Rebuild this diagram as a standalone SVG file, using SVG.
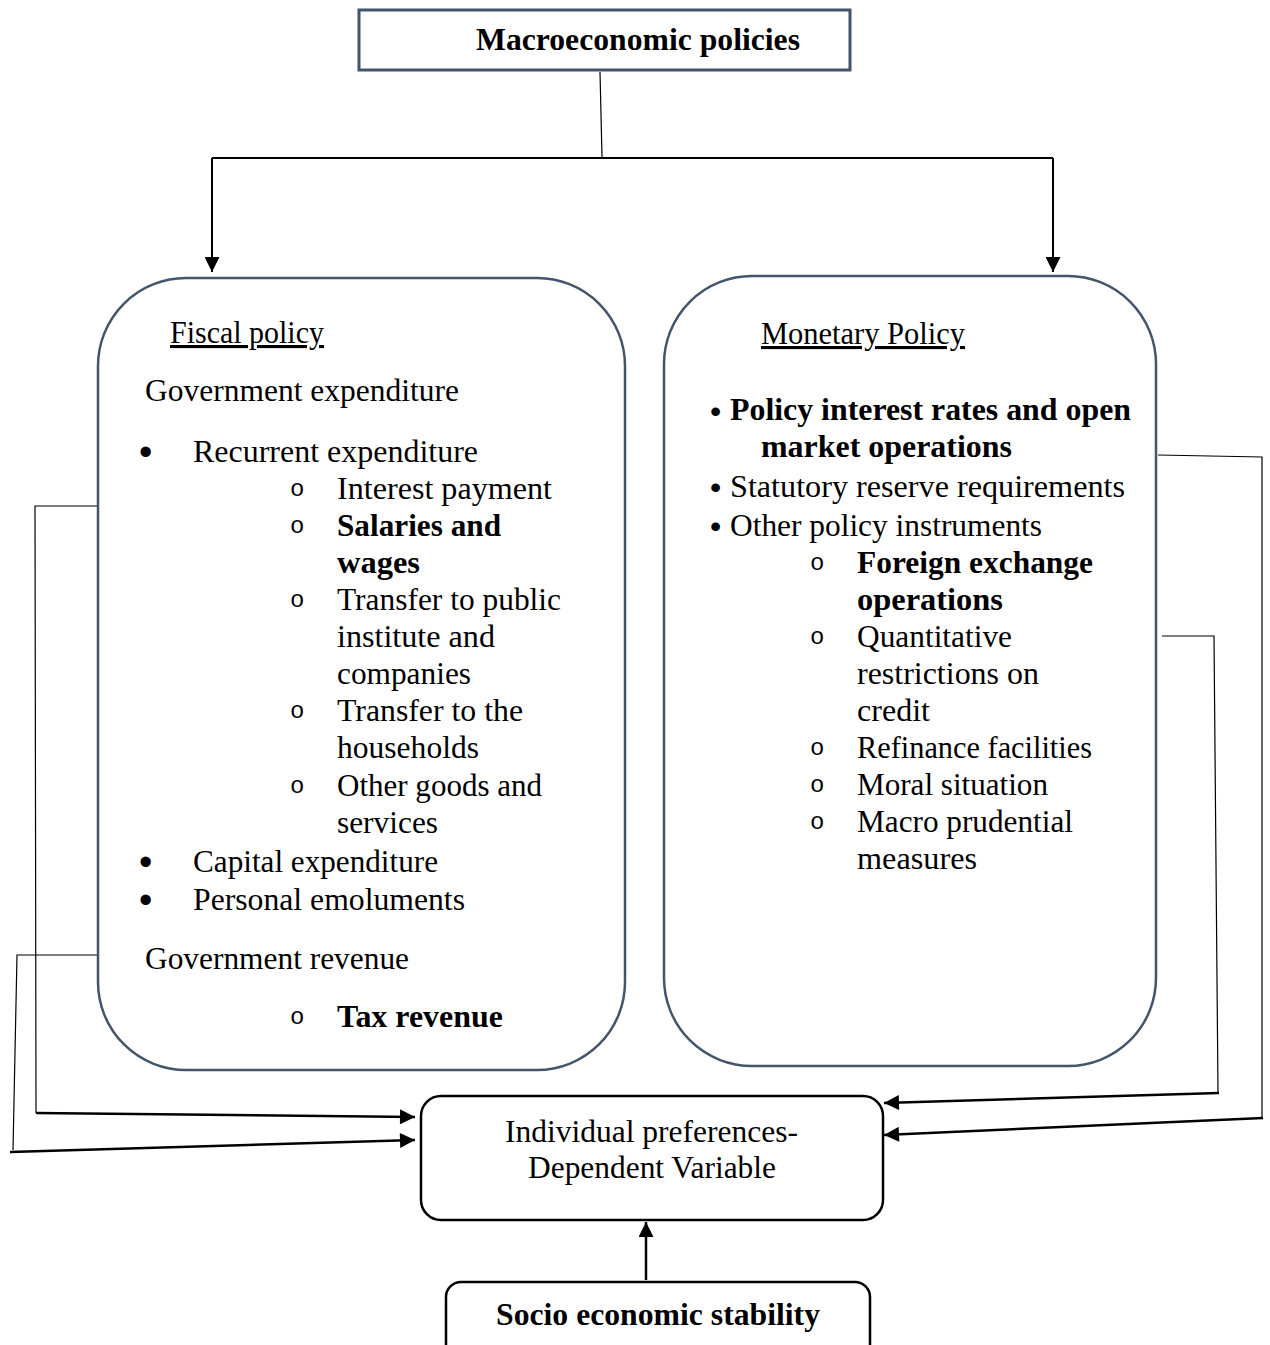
<svg xmlns="http://www.w3.org/2000/svg" width="1270" height="1345" viewBox="0 0 1270 1345">
<style>
.t{font-family:"Liberation Serif","Times New Roman",serif;font-size:31px;fill:#000}
.b{font-weight:bold}
.u{text-decoration:underline}
.dot{font-family:"Liberation Sans",Arial,sans-serif;font-size:38px;fill:#000}
.dot2{font-family:"Liberation Sans",Arial,sans-serif;font-size:32px;fill:#000}
.cir{font-family:"Liberation Mono","Courier New",monospace;font-size:24px;fill:#000}
.box{fill:#fff;stroke:#44546a;stroke-width:2.5}
.nbox{fill:#fff;stroke:#000;stroke-width:2.5}
.thin{fill:none;stroke:#000;stroke-width:1.2}
.thick{fill:none;stroke:#000;stroke-width:2.5}
.mid{fill:none;stroke:#000;stroke-width:2}
</style>
<defs>
<marker id="ah" viewBox="0 0 10 10" refX="10" refY="5" markerWidth="16" markerHeight="15" markerUnits="userSpaceOnUse" orient="auto">
<path d="M0,0 L10,5 L0,10 z" fill="#000"/>
</marker>
</defs>
<rect width="1270" height="1345" fill="#fff"/>

<g id="connectors">
<path class="thin" d="M600,72 L602,157"/>
<path class="mid" d="M212,158 L1053,158"/>
<path class="mid" d="M212,158 L212,272" marker-end="url(#ah)"/>
<path class="mid" d="M1053,158 L1053,272" marker-end="url(#ah)"/>
<path class="thin" d="M98,506 L35,506 L36,1113"/>
<path class="thick" d="M36,1113 L415,1117" marker-end="url(#ah)"/>
<path class="thin" d="M98,955 L17,955 L13,1150"/>
<path class="thick" d="M10,1152 L415,1140" marker-end="url(#ah)"/>
<path class="thin" d="M1158,455 L1262,457 L1262,1118"/>
<path class="thick" d="M1263,1118 L884,1135" marker-end="url(#ah)"/>
<path class="thin" d="M1162,636 L1214,636 L1218,1093"/>
<path class="thick" d="M1219,1093 L884,1103" marker-end="url(#ah)"/>
<path class="thick" d="M646,1280 L646,1222" marker-end="url(#ah)"/>
</g>

<g id="macro">
<rect class="box" x="359" y="10" width="491" height="60" style="stroke-width:3"/>
<text class="t b" x="476" y="50" textLength="324" lengthAdjust="spacingAndGlyphs">Macroeconomic policies</text>
</g>

<g id="fiscal">
<rect class="box" x="98" y="278" width="527" height="792" rx="88" ry="88"/>
<text class="t u" x="170" y="343" textLength="154" lengthAdjust="spacingAndGlyphs">Fiscal policy</text>
<text class="t" x="145" y="401" textLength="314" lengthAdjust="spacingAndGlyphs">Government expenditure</text>
<text class="dot" x="139" y="465">•</text>
<text class="t" x="193" y="462" textLength="285" lengthAdjust="spacingAndGlyphs">Recurrent expenditure</text>
<text class="cir" x="290" y="496">o</text>
<text class="t" x="337" y="499" textLength="215" lengthAdjust="spacingAndGlyphs">Interest payment</text>
<text class="cir" x="290" y="533">o</text>
<text class="t b" x="337" y="536" textLength="164" lengthAdjust="spacingAndGlyphs">Salaries and</text>
<text class="t b" x="337" y="573" textLength="83" lengthAdjust="spacingAndGlyphs">wages</text>
<text class="cir" x="290" y="607">o</text>
<text class="t" x="337" y="610" textLength="224" lengthAdjust="spacingAndGlyphs">Transfer to public</text>
<text class="t" x="337" y="647" textLength="158" lengthAdjust="spacingAndGlyphs">institute and</text>
<text class="t" x="337" y="684" textLength="134" lengthAdjust="spacingAndGlyphs">companies</text>
<text class="cir" x="290" y="718">o</text>
<text class="t" x="337" y="721" textLength="186" lengthAdjust="spacingAndGlyphs">Transfer to the</text>
<text class="t" x="337" y="758" textLength="142" lengthAdjust="spacingAndGlyphs">households</text>
<text class="cir" x="290" y="793">o</text>
<text class="t" x="337" y="796" textLength="205" lengthAdjust="spacingAndGlyphs">Other goods and</text>
<text class="t" x="337" y="833" textLength="101" lengthAdjust="spacingAndGlyphs">services</text>
<text class="dot" x="139" y="875">•</text>
<text class="t" x="193" y="872" textLength="245" lengthAdjust="spacingAndGlyphs">Capital expenditure</text>
<text class="dot" x="139" y="913">•</text>
<text class="t" x="193" y="910" textLength="272" lengthAdjust="spacingAndGlyphs">Personal emoluments</text>
<text class="t" x="145" y="969" textLength="264" lengthAdjust="spacingAndGlyphs">Government revenue</text>
<text class="cir" x="290" y="1024">o</text>
<text class="t b" x="337" y="1027" textLength="166" lengthAdjust="spacingAndGlyphs">Tax revenue</text>
</g>

<g id="monetary">
<rect class="box" x="664" y="276" width="492" height="790" rx="88" ry="88"/>
<text class="t u" x="761" y="344" textLength="204" lengthAdjust="spacingAndGlyphs">Monetary Policy</text>
<text class="dot2" x="710" y="422">•</text>
<text class="t b" x="730" y="420" textLength="401" lengthAdjust="spacingAndGlyphs">Policy interest rates and open</text>
<text class="t b" x="761" y="457" textLength="251" lengthAdjust="spacingAndGlyphs">market operations</text>
<text class="dot2" x="710" y="498">•</text>
<text class="t" x="730" y="497" textLength="395" lengthAdjust="spacingAndGlyphs">Statutory reserve requirements</text>
<text class="dot2" x="710" y="537">•</text>
<text class="t" x="730" y="536" textLength="312" lengthAdjust="spacingAndGlyphs">Other policy instruments</text>
<text class="cir" x="810" y="570">o</text>
<text class="t b" x="857" y="573" textLength="236" lengthAdjust="spacingAndGlyphs">Foreign exchange</text>
<text class="t b" x="857" y="610" textLength="146" lengthAdjust="spacingAndGlyphs">operations</text>
<text class="cir" x="810" y="644">o</text>
<text class="t" x="857" y="647" textLength="155" lengthAdjust="spacingAndGlyphs">Quantitative</text>
<text class="t" x="857" y="684" textLength="182" lengthAdjust="spacingAndGlyphs">restrictions on</text>
<text class="t" x="857" y="721" textLength="73" lengthAdjust="spacingAndGlyphs">credit</text>
<text class="cir" x="810" y="755">o</text>
<text class="t" x="857" y="758" textLength="235" lengthAdjust="spacingAndGlyphs">Refinance facilities</text>
<text class="cir" x="810" y="792">o</text>
<text class="t" x="857" y="795" textLength="191" lengthAdjust="spacingAndGlyphs">Moral situation</text>
<text class="cir" x="810" y="829">o</text>
<text class="t" x="857" y="832" textLength="216" lengthAdjust="spacingAndGlyphs">Macro prudential</text>
<text class="t" x="857" y="869" textLength="120" lengthAdjust="spacingAndGlyphs">measures</text>
</g>

<g id="individual">
<rect class="nbox" x="421" y="1096" width="462" height="124" rx="20" ry="20"/>
<text class="t" x="505" y="1142" textLength="293" lengthAdjust="spacingAndGlyphs">Individual preferences-</text>
<text class="t" x="528" y="1178" textLength="248" lengthAdjust="spacingAndGlyphs">Dependent Variable</text>
</g>

<g id="socio">
<rect class="nbox" x="446" y="1282" width="424" height="90" rx="15" ry="15"/>
<text class="t b" x="496" y="1325" textLength="324" lengthAdjust="spacingAndGlyphs">Socio economic stability</text>
</g>
</svg>
